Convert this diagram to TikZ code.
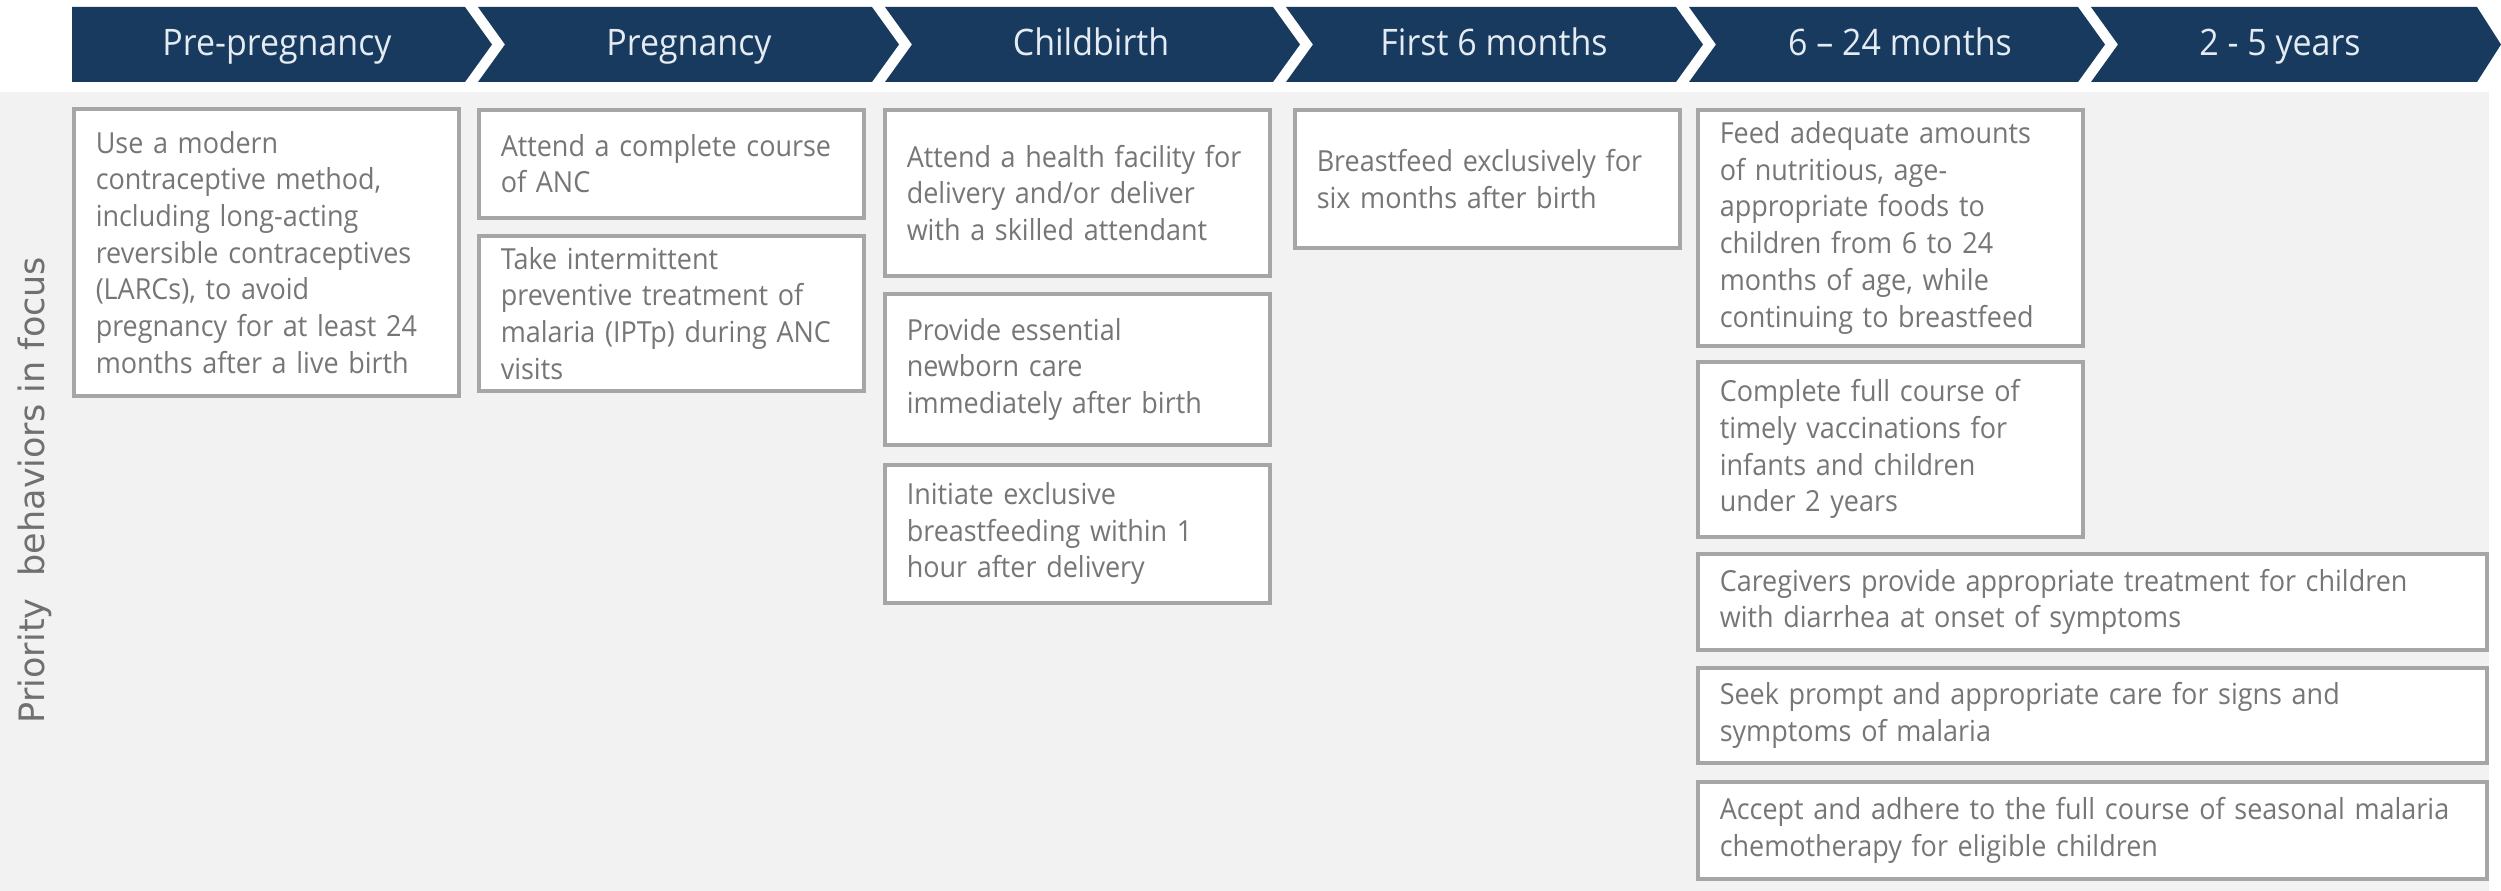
\documentclass[tikz,border=0pt]{standalone}
\usepackage{fontspec}
\setmainfont{Open Sans}[FakeStretch=0.93]
\newfontfamily\sidefont{DejaVu Sans}
\definecolor{hdrblue}{HTML}{173A5E}
\definecolor{hdrtext}{HTML}{E4EBF2}
\definecolor{panelgray}{HTML}{F2F2F2}
\definecolor{boxline}{HTML}{A6A6A6}
\definecolor{boxtext}{HTML}{767676}
\definecolor{sidegray}{HTML}{707070}

\begin{document}
\begin{tikzpicture}[x=1pt, y=-1pt,
    hdr/.style={fill=hdrblue},
    hdrlabel/.style={text=hdrtext, anchor=base, font=\fontsize{36.5pt}{40pt}\selectfont},
    box/.style={draw=boxline, line width=3.5pt, fill=white, anchor=north west, align=left,
        text width=341pt, inner xsep=22pt, inner ysep=0pt, text=boxtext,
        font=\fontsize{29pt}{36.7pt}\selectfont},
    widebox/.style={box, text width=745pt}]
    \useasboundingbox (0,0) rectangle (2501,891);

    % 背景
    \fill[panelgray] (0,92) rectangle (2489,891);

    % 見出しのシェブロン
    \fill[hdr] (72,7) -- (465,7) -- (492,44.5) -- (465,82) -- (72,82) -- cycle;
    \fill[hdr] (478,7) -- (872,7) -- (899,44.5) -- (872,82) -- (478,82) -- (505,44.5) -- cycle;
    \fill[hdr] (885,7) -- (1273,7) -- (1300,44.5) -- (1273,82) -- (885,82) -- (912,44.5) -- cycle;
    \fill[hdr] (1286,7) -- (1676,7) -- (1703,44.5) -- (1676,82) -- (1286,82) -- (1313,44.5) -- cycle;
    \fill[hdr] (1689,7) -- (2078,7) -- (2105,44.5) -- (2078,82) -- (1689,82) -- (1716,44.5) -- cycle;
    \fill[hdr] (2091,7) -- (2477,7) -- (2501,44.5) -- (2477,82) -- (2091,82) -- (2118,44.5) -- cycle;

    \node[hdrlabel] (prepreg) at (277,56) {Pre-pregnancy};
    \node[hdrlabel] (preg) at (689,56) {Pregnancy};
    \node[hdrlabel] (birth) at (1091,56) {Childbirth};
    \node[hdrlabel] (first6) at (1494,56) {First 6 months};
    \node[hdrlabel] (m624) at (1900,56) {6 – 24 months};
    \node[hdrlabel] (y25) at (2280,56) {2 - 5 years};

    % 縦のラベル
    \node[rotate=90, text=sidegray, font=\sidefont\fontsize{35pt}{40pt}\selectfont] (side) at (35,490) {Priority~ behaviors in focus};

    % 行動ボックス
    \node[box, minimum height=287pt] (contra) at (72,107) {Use a modern\\contraceptive method,\\including long-acting\\reversible contraceptives\\(LARCs), to avoid\\pregnancy for at least 24\\months after a live birth};

    \node[box, minimum height=108pt] (anc) at (477,108) {Attend a complete course\\of ANC};
    \node[box, minimum height=155pt] (iptp) at (477,234) {Take intermittent\\preventive treatment of\\malaria (IPTp) during ANC\\visits};

    \node[box, minimum height=166pt] (facility) at (883,108) {Attend a health facility for\\delivery and/or deliver\\with a skilled attendant};
    \node[box, minimum height=151pt] (newborn) at (883,292) {Provide essential\\newborn care\\immediately after birth};
    \node[box, minimum height=138pt] (initiate) at (883,463) {Initiate exclusive\\breastfeeding within 1\\hour after delivery};

    \node[box, minimum height=138pt] (exclusive) at (1293,108) {Breastfeed exclusively for\\six months after birth};

    \node[box, minimum height=236pt] (feed) at (1696,108) {Feed adequate amounts\\of nutritious, age-\\appropriate foods to\\children from 6 to 24\\months of age, while\\continuing to breastfeed};
    \node[box, minimum height=175pt] (vaccine) at (1696,360) {Complete full course of\\timely vaccinations for\\infants and children\\under 2 years};

    \node[widebox, minimum height=96pt] (diarrhea) at (1696,552) {Caregivers provide appropriate treatment for children\\with diarrhea at onset of symptoms};
    \node[widebox, minimum height=95pt] (malaria) at (1696,666) {Seek prompt and appropriate care for signs and\\symptoms of malaria};
    \node[widebox, minimum height=97pt] (smc) at (1696,780) {Accept and adhere to the full course of seasonal malaria\\chemotherapy for eligible children};
\end{tikzpicture}
\end{document}
